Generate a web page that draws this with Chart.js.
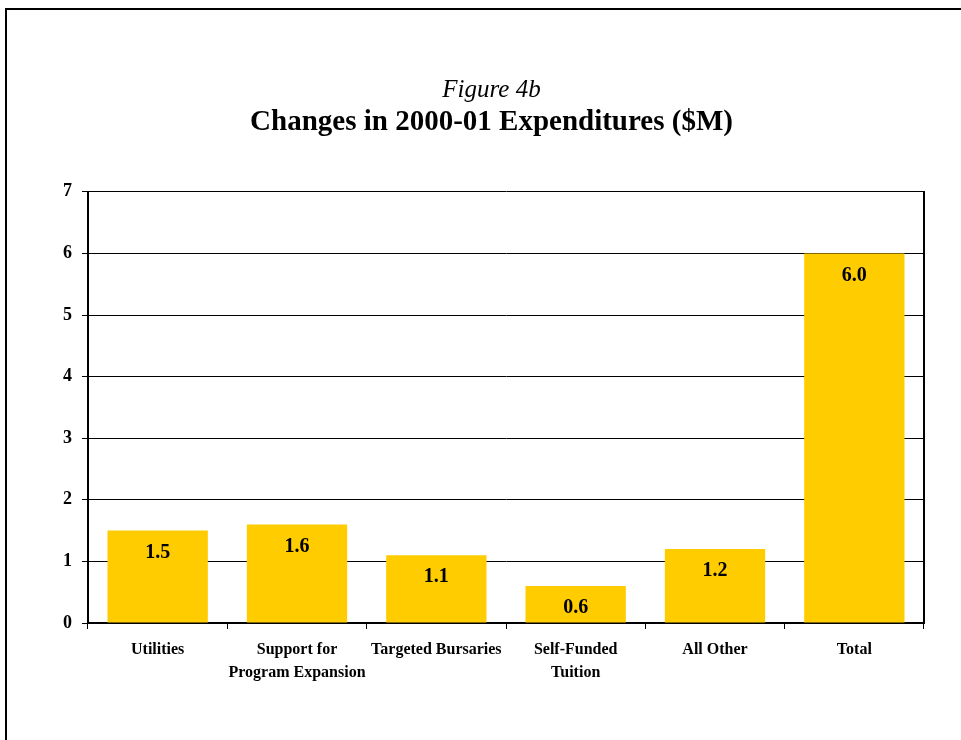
<!DOCTYPE html>
<html lang="en">
  <head>
    <meta charset="UTF-8" />
    <title>Figure 4b</title>
    <style>
      body { margin: 0; background: #fff; overflow: hidden; }
      #frame {
        position: absolute; left: 5px; top: 8px;
        width: 1000px; height: 800px;
        border: 2px solid #000;
      }
      #wrap { position: absolute; left: 0; top: 0; width: 961px; height: 740px; }
    </style>
  </head>
  <body>
    <div id="frame"></div>
    <div id="wrap">
      <canvas id="chart"></canvas>
    </div>
    <script src="https://cdn.jsdelivr.net/npm/chart.js"></script>
    <script>
      const categories = [
        "Utilities",
        ["Support for", "Program Expansion"],
        "Targeted Bursaries",
        ["Self-Funded", "Tuition"],
        "All Other",
        "Total",
      ];
      const changes = [1.5, 1.6, 1.1, 0.6, 1.2, 6.0];
      const yTicks = [0, 1, 2, 3, 4, 5, 6, 7];

      const SERIF = "'Times New Roman', 'Liberation Serif', serif";
      const GOLD = "#ffcc00";

      // value printed near the top inside each bar
      const barValues = {
        id: "barValues",
        afterDatasetsDraw(chart) {
          const ctx = chart.ctx;
          const meta = chart.getDatasetMeta(0);
          ctx.save();
          ctx.font = `bold 20px ${SERIF}`;
          ctx.fillStyle = "#000";
          ctx.textAlign = "center";
          ctx.textBaseline = "middle";
          meta.data.forEach((bar, i) => {
            ctx.fillText(changes[i].toFixed(1), bar.x, bar.y + 22);
          });
          ctx.restore();
        },
      };

      new Chart(document.getElementById("chart"), {
        type: "bar",
        data: {
          labels: categories,
          datasets: [
            {
              data: changes,
              backgroundColor: GOLD,
              barPercentage: 0.72,
              categoryPercentage: 1,
            },
          ],
        },
        plugins: [barValues],
        options: {
          responsive: true,
          maintainAspectRatio: false,
          animation: false,
          layout: { padding: { left: 22, right: 0, top: 0, bottom: 0 } },
          plugins: {
            legend: { display: false },
            tooltip: { enabled: false },
            title: {
              display: true,
              text: "Figure 4b",
              color: "#000",
              font: { family: SERIF, size: 25, style: "italic", weight: "normal" },
              padding: { top: 75, bottom: 0 },
            },
            subtitle: {
              display: true,
              text: "Changes in 2000-01 Expenditures ($M)",
              color: "#000",
              font: { family: SERIF, size: 29, weight: "bold" },
              padding: { top: 0, bottom: 52 },
            },
          },
          scales: {
            x: {
              afterFit: (scale) => { scale.height = 117; },
              grid: {
                offset: true,
                drawOnChartArea: false,
                drawTicks: true,
                tickLength: 6,
                color: "#000",
              },
              border: { color: "#000", width: 2 },
              ticks: {
                color: "#000",
                padding: 10,
                maxRotation: 0,
                autoSkip: false,
                font: { family: SERIF, size: 16, weight: "bold", lineHeight: 1.4 },
              },
            },
            y: {
              min: 0,
              max: 7,
              afterFit: (scale) => { scale.width = 66; },
              afterBuildTicks: (scale) => {
                scale.ticks = yTicks.map((v) => ({ value: v }));
              },
              grid: { color: "#000", lineWidth: 1, tickLength: 6 },
              border: { color: "#000", width: 2 },
              ticks: {
                color: "#000",
                padding: 10,
                font: { family: SERIF, size: 18, weight: "bold" },
              },
            },
            // empty right-hand axis: closes the plot frame and reserves the margin
            y2: {
              display: true,
              position: "right",
              min: 0,
              max: 7,
              afterFit: (scale) => { scale.width = 37; },
              grid: { drawOnChartArea: false, drawTicks: false },
              border: { color: "#000", width: 2 },
              ticks: { display: false },
            },
          },
        },
      });
    </script>
  </body>
</html>
